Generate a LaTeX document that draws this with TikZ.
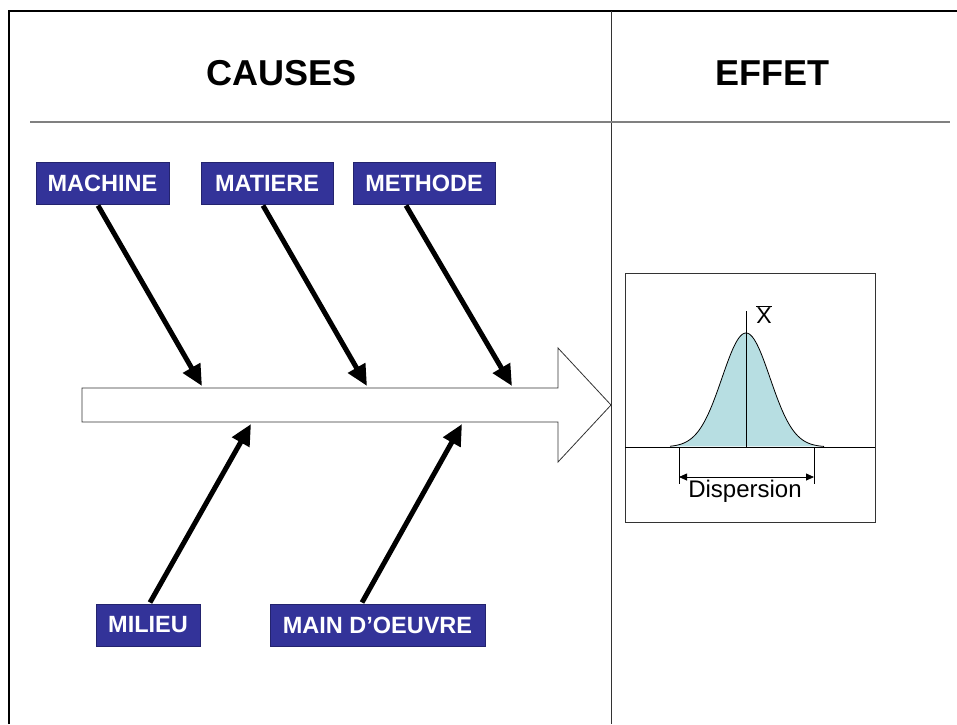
\documentclass[tikz,border=0pt]{standalone}
\usepackage{fontspec}
\setmainfont{Liberation Sans}
\usetikzlibrary{arrows.meta,calc}
\definecolor{boxblue}{RGB}{51,51,153}
\definecolor{boxedge}{RGB}{35,35,110}
\definecolor{curvefill}{RGB}{183,222,226}
\tikzset{
  causebox/.style={fill=boxblue,draw=boxedge,line width=1pt,text=white,
    font=\fontsize{23.5}{26}\selectfont\bfseries,minimum height=42pt,inner sep=0pt},
  title/.style={font=\fontsize{36}{40}\selectfont\bfseries},
  causearrow/.style={line width=5pt,-{Triangle[length=21pt,width=19pt]}},
}
\begin{document}
\begin{tikzpicture}[x=1pt,y=-1pt]
\useasboundingbox (0,0) rectangle (957,724);
% frame
\draw[line width=2pt] (9,724) -- (9,11) -- (957,11);
\draw[line width=0.8pt,black!80] (611,11) -- (611,724);
\draw[line width=2pt,black!50] (30,122) -- (950,122);
% titles
\node[title] (causes) at (282,73) {CAUSES};
\node[title] (effet) at (772,73) {EFFET};
% big arrow
\draw[line width=0.8pt,black!80,fill=white] (82,388) -- (558,388) -- (558,348) -- (611,405)
  -- (558,462) -- (558,422) -- (82,422) -- cycle;
% cause boxes
\node[causebox,minimum width=133pt] (machine) at (102.5,183) {MACHINE};
\node[causebox,minimum width=132pt] (matiere) at (267,183) {MATIERE};
\node[causebox,minimum width=142pt] (methode) at (424,183) {METHODE};
\node[causebox,minimum width=104pt] (milieu) at (148,625) {MILIEU};
\node[causebox,minimum width=215pt] (main) at (377.5,625) {MAIN D’OEUVRE};
% arrow tips
\coordinate (t1) at (202,386);
\coordinate (t2) at (367,386);
\coordinate (t3) at (512,386);
\coordinate (t4) at (251,424);
\coordinate (t5) at (462,424);
\draw[causearrow] ($(machine.south)+(-4.5,1)$) -- (t1);
\draw[causearrow] ($(matiere.south)+(-4,1)$) -- (t2);
\draw[causearrow] ($(methode.south)+(-18,1)$) -- (t3);
\draw[causearrow] ($(milieu.north)+(2,-1)$) -- (t4);
\draw[causearrow] ($(main.north)+(-15.5,-1)$) -- (t5);
% effect box
\draw[line width=0.8pt,black!80] (625,273) rectangle (875,522);
\fill[curvefill] plot[domain=670:824,samples=100] (\x,{447-114*exp(-((\x-746)/24)*((\x-746)/24)/2)}) -- cycle;
\draw[line width=0.8pt] plot[domain=670:824,samples=100] (\x,{447-114*exp(-((\x-746)/24)*((\x-746)/24)/2)});
\draw[line width=0.8pt] (625,447) -- (875,447);
\draw[line width=0.8pt] (746,311) -- (746,447);
\node[font=\fontsize{23}{26}\selectfont,inner sep=0pt] (xbar) at (764,315) {$\overline{\mbox{X}}$};
\draw[line width=0.8pt] (679,447) -- (679,484);
\draw[line width=0.8pt] (814,447) -- (814,484);
\coordinate (d1) at (679,477);
\coordinate (d2) at (814,477);
\draw[line width=0.8pt,{Triangle[length=8pt,width=7pt]}-{Triangle[length=8pt,width=7pt]}] (d1) -- (d2);
\node[font=\fontsize{24}{28}\selectfont,inner sep=0pt,anchor=base] (disp) at (745,497) {Dispersion};
\end{tikzpicture}
\end{document}
